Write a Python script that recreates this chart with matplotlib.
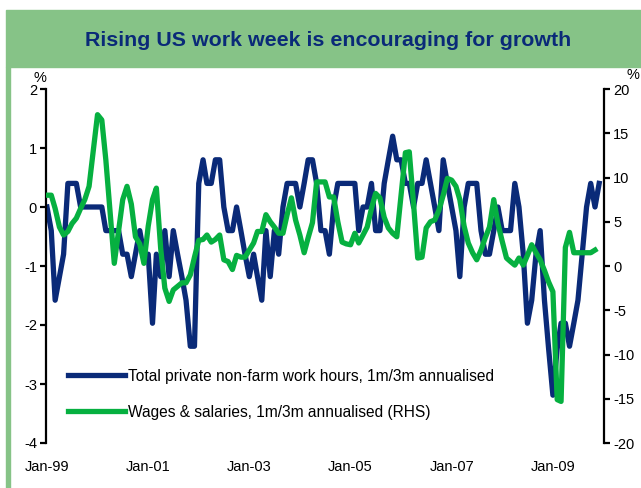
import matplotlib
matplotlib.use("Agg")
import matplotlib.pyplot as plt
import matplotlib.dates as mdates
from matplotlib.patches import Rectangle
import pandas as pd

plt.rcParams['font.family'] = ['Liberation Sans', 'DejaVu Sans']
plt.rcParams['axes.unicode_minus'] = False

# monthly data from Jan-1999
work_hours = [
    0, -0.4, -1.58, -1.18, -0.8, 0.4, 0.4, 0.4, 0, 0, 0, 0,
    0, 0, -0.4, -0.4, -0.4, -0.4, -0.8, -0.8, -1.18, -0.8, -0.4, -0.8,
    -0.8, -1.97, -0.8, -1.18, -0.4, -1.18, -0.4, -0.8, -1.18, -1.58, -2.36, -2.36,
    0.4, 0.8, 0.4, 0.4, 0.8, 0.8, 0, -0.4, -0.4, 0, -0.4, -0.8,
    -1.18, -0.8, -1.18, -1.58, -0.4, -1.18, -0.4, -0.8, 0, 0.4, 0.4, 0.4,
    0, 0.4, 0.8, 0.8, 0.4, -0.4, -0.4, -0.8, 0, 0.4, 0.4, 0.4,
    0.4, 0.4, -0.4, 0, 0, 0.4, -0.4, -0.4, 0.4, 0.8, 1.2, 0.8,
    0.8, 0.4, 0.4, 0, 0.4, 0.4, 0.8, 0.4, 0, -0.4, 0.8, 0.4,
    0, -0.4, -1.18, 0, 0.4, 0.4, 0.4, -0.4, -0.8, -0.8, -0.4, 0,
    -0.4, -0.4, -0.4, 0.4, 0, -0.8, -1.97, -1.58, -0.8, -0.4, -1.58, -2.4,
    -3.19, -2.4, -1.97, -1.97, -2.36, -1.97, -1.58, -0.8, 0, 0.4, 0, 0.4,
]
wages = [
    8.0, 8.0, 6.5, 4.4, 3.5, 3.9, 4.8, 5.4, 6.5, 7.5, 9.0, 13.0,
    17.1, 16.5, 12.0, 6.0, 0.3, 4.0, 7.5, 9.0, 7.0, 3.3, 2.5, 0.3,
    4.5, 7.5, 8.8, 2.0, -2.5, -4.0, -2.7, -2.3, -1.9, -1.9, -1.0, 1.0,
    2.9, 3.0, 3.5, 2.7, 3.0, 3.5, 0.7, 0.5, -0.4, 1.2, 1.0, 1.0,
    1.8, 2.6, 3.9, 3.9, 5.8, 5.0, 4.4, 3.7, 3.7, 5.8, 7.7, 5.2,
    3.5, 1.5, 3.2, 4.9, 9.5, 9.5, 9.5, 7.8, 7.8, 5.0, 2.7, 2.5,
    2.4, 3.7, 2.6, 3.5, 4.4, 6.5, 8.2, 7.7, 5.5, 4.3, 3.7, 3.3,
    8.0, 12.8, 12.9, 7.0, 0.9, 1.0, 4.3, 5.0, 5.2, 6.3, 8.0, 9.9,
    9.7, 9.0, 7.5, 4.5, 2.6, 1.5, 0.7, 1.8, 3.2, 4.4, 7.5, 4.8,
    2.8, 0.9, 0.5, 0.1, 0.9, 0.1, 1.2, 2.4, 1.5, 0.7, -0.5, -1.8,
    -2.9, -15.1, -15.3, 2.1, 3.8, 1.5, 1.5, 1.5, 1.5, 1.5, 1.8,
]
months = pd.date_range('1999-01-01', periods=len(work_hours), freq='MS')

left_ticks = [-4, -3, -2, -1, 0, 1, 2]
right_ticks = [-20, -15, -10, -5, 0, 5, 10, 15, 20]
year_ticks = pd.to_datetime(['1999-01-01', '2001-01-01', '2003-01-01',
                             '2005-01-01', '2007-01-01', '2009-01-01'])

navy = '#0a2a78'
green = '#06b040'
frame_green = '#86c387'

fig = plt.figure(figsize=(6.41, 4.88), dpi=100)

# title band and left border
fig.patches.append(Rectangle((6/641, 1-67/488), 1-6/641, 57/488,
                             transform=fig.transFigure, color=frame_green, zorder=0))
fig.patches.append(Rectangle((6/641, 0), 3.5/641, 1-67/488,
                             transform=fig.transFigure, color=frame_green, zorder=0))
fig.text(0.512, 1-40/488, 'Rising US work week is encouraging for growth',
         ha='center', va='center', fontsize=15.4, fontweight='bold', color=navy)

ax = fig.add_axes([46/641, 1-443/488, 558/641, 354/488])
ax2 = ax.twinx()

l1, = ax.plot(months, work_hours, color=navy, lw=3.8, solid_joinstyle='round')
l2, = ax2.plot(months[:len(wages)], wages, color=green, lw=3.8, solid_joinstyle='round')

ax.set_ylim(-4, 2)
ax2.set_ylim(-20, 20)
ax.set_yticks(left_ticks)
ax2.set_yticks(right_ticks)
ax.set_xlim(pd.Timestamp('1998-12-25'), pd.Timestamp('2010-01-05'))
ax.set_xticks(year_ticks)
ax.xaxis.set_major_formatter(mdates.DateFormatter('%b-%y'))

for a in (ax, ax2):
    for s in ('top', 'bottom'):
        a.spines[s].set_visible(False)
    a.patch.set_visible(False)
ax.spines['right'].set_visible(False)
ax2.spines['left'].set_visible(False)
ax.spines['left'].set_linewidth(1.6)
ax2.spines['right'].set_linewidth(1.6)

ax.tick_params(axis='y', direction='out', length=4.5, width=1.6, pad=2, labelsize=10.5)
ax2.tick_params(axis='y', direction='out', length=4.5, width=1.6, pad=2, labelsize=10.5)
ax.tick_params(axis='x', length=0, pad=12, labelsize=10.5)

fig.text(40/641, 1-78/488, '%', ha='center', va='center', fontsize=10.5)
fig.text(633/641, 1-75/488, '%', ha='center', va='center', fontsize=10.5)

ax2.legend([l1, l2],
           ['Total private non-farm work hours, 1m/3m annualised',
            'Wages & salaries, 1m/3m annualised (RHS)'],
           loc='lower left', bbox_to_anchor=(0.039, 0.066), frameon=False,
           fontsize=11.2, handlelength=3.7, handletextpad=0.15,
           labelspacing=1.35, borderpad=0, borderaxespad=0)

fig.savefig('out.png', dpi=100)
